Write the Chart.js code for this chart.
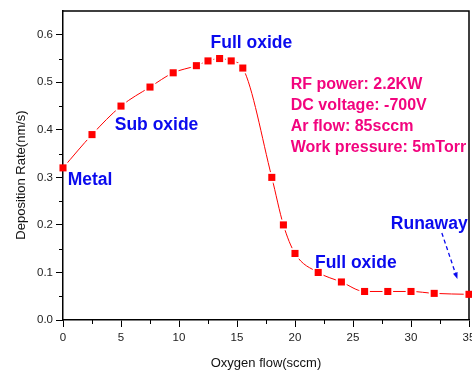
<!DOCTYPE html>
<html><head><meta charset="utf-8">
<script src="https://cdn.jsdelivr.net/npm/chart.js@4/dist/chart.umd.min.js"></script>
<style>html,body{margin:0;padding:0;background:#fff;}#wrap{width:472px;height:370px;position:relative;}</style>
</head><body><div id="wrap"><canvas id="c" width="472" height="370" style="width:472px;height:370px;"></canvas></div>
<script>
// ---- data ----
const oxygenFlow     = [0, 2.5, 5, 7.5, 9.5, 11.5, 12.5, 13.5, 14.5, 15.5, 18, 19, 20, 22, 24, 26, 28, 30, 32, 35];
const depositionRate = [0.32, 0.39, 0.45, 0.49, 0.52, 0.535, 0.545, 0.55, 0.545, 0.53, 0.30, 0.20, 0.14, 0.10, 0.08, 0.06, 0.06, 0.06, 0.056, 0.054];
const xTickValues = [0, 5, 10, 15, 20, 25, 30, 35];
const yTickValues = [0, 0.1, 0.2, 0.3, 0.4, 0.5, 0.6];
const xTitle = 'Oxygen flow(sccm)';
const yTitle = 'Deposition Rate(nm/s)';
const regionLabels = ['Metal', 'Sub oxide', 'Full oxide', 'Full oxide', 'Runaway'];
const conditionLines = ['RF power: 2.2KW', 'DC voltage: -700V', 'Ar flow: 85sccm', 'Work pressure: 5mTorr'];

const points = oxygenFlow.map((x, i) => ({x: x, y: depositionRate[i]}));

// annotation anchors in data coordinates
const annot = {
  regionAnchors: [[0.4, 0.284], [4.46, 0.40], [12.72, 0.572], [21.72, 0.109], [28.26, 0.191]],
  condAnchor: [19.63, 0.486],
  condStep: 0.0443,
  arrowFrom: [32.66, 0.183],
  arrowTo: [34.0, 0.086]
};

const BLUE = '#0A0AEE', PINK = '#F2047E', RED = '#FF0000';

const extras = {
  id: 'extras',
  beforeDatasetsDraw(chart) {
    const {ctx, chartArea: a} = chart;
    const xs = chart.scales.x, ys = chart.scales.y;
    ctx.save();
    ctx.strokeStyle = '#000';
    ctx.lineWidth = 1.5;
    ctx.beginPath();
    ctx.moveTo(a.left, a.top); ctx.lineTo(a.right, a.top); ctx.lineTo(a.right, a.bottom);
    ctx.stroke();
    // minor ticks
    ctx.lineWidth = 1;
    ctx.beginPath();
    for (let i = 0; i < xTickValues.length - 1; i++) {
      const v = (xTickValues[i] + xTickValues[i + 1]) / 2;
      const px = Math.round(xs.getPixelForValue(v)) + 0.5;
      ctx.moveTo(px, a.bottom); ctx.lineTo(px, a.bottom + 4);
    }
    for (let i = 0; i < yTickValues.length - 1; i++) {
      const v = (yTickValues[i] + yTickValues[i + 1]) / 2;
      const py = Math.round(ys.getPixelForValue(v)) + 0.5;
      ctx.moveTo(a.left, py); ctx.lineTo(a.left - 4, py);
    }
    ctx.stroke();
    ctx.restore();
  },
  afterDraw(chart) {
    const {ctx, chartArea: a} = chart;
    const xs = chart.scales.x, ys = chart.scales.y;
    ctx.save();
    // axis titles
    ctx.fillStyle = '#111';
    ctx.font = '13px "Liberation Sans", Arial, sans-serif';
    ctx.textAlign = 'center';
    ctx.textBaseline = 'alphabetic';
    ctx.fillText(xTitle, (a.left + a.right) / 2, 367);
    ctx.save();
    ctx.translate(25, 175);
    ctx.rotate(-Math.PI / 2);
    ctx.fillText(yTitle, 0, 0);
    ctx.restore();
    // region labels
    ctx.textAlign = 'left';
    ctx.fillStyle = BLUE;
    ctx.font = 'bold 17.5px "Liberation Sans", Arial, sans-serif';
    regionLabels.forEach((t, i) => {
      const [vx, vy] = annot.regionAnchors[i];
      ctx.fillText(t, xs.getPixelForValue(vx), ys.getPixelForValue(vy));
    });
    // conditions
    ctx.fillStyle = PINK;
    ctx.font = 'bold 16px "Liberation Sans", Arial, sans-serif';
    conditionLines.forEach((t, i) => {
      ctx.fillText(t, xs.getPixelForValue(annot.condAnchor[0]),
        ys.getPixelForValue(annot.condAnchor[1] - i * annot.condStep));
    });
    // dashed arrow
    const x1 = xs.getPixelForValue(annot.arrowFrom[0]), y1 = ys.getPixelForValue(annot.arrowFrom[1]);
    const x2 = xs.getPixelForValue(annot.arrowTo[0]), y2 = ys.getPixelForValue(annot.arrowTo[1]);
    const ang = Math.atan2(y2 - y1, x2 - x1);
    ctx.strokeStyle = BLUE;
    ctx.lineWidth = 1.3;
    ctx.setLineDash([4, 3]);
    ctx.beginPath();
    ctx.moveTo(x1, y1);
    ctx.lineTo(x2 - 5 * Math.cos(ang), y2 - 5 * Math.sin(ang));
    ctx.stroke();
    ctx.setLineDash([]);
    ctx.fillStyle = BLUE;
    ctx.beginPath();
    ctx.moveTo(x2, y2);
    ctx.lineTo(x2 - 7 * Math.cos(ang - 0.35), y2 - 7 * Math.sin(ang - 0.35));
    ctx.lineTo(x2 - 7 * Math.cos(ang + 0.35), y2 - 7 * Math.sin(ang + 0.35));
    ctx.closePath();
    ctx.fill();
    ctx.restore();
  }
};

const tickFont = {family: '"Liberation Sans", Arial, sans-serif', size: 11.5};

new Chart(document.getElementById('c'), {
  type: 'scatter',
  data: {
    datasets: [
      {data: points, showLine: true, borderColor: RED, borderWidth: 1, pointRadius: 0,
       cubicInterpolationMode: 'monotone', order: 3},
      {data: points, showLine: false, pointStyle: 'rect', pointRadius: 7.5, pointBorderWidth: 0,
       pointBackgroundColor: '#fff', order: 2, clip: {left: -1, right: -1, top: 0, bottom: -1}},
      {data: points, showLine: false, pointStyle: 'rect', pointRadius: 5, pointBorderWidth: 0,
       pointBackgroundColor: RED, order: 1, clip: false}
    ]
  },
  options: {
    responsive: false, animation: false, devicePixelRatio: 1,
    layout: {autoPadding: false, padding: {top: 11, right: 3, left: 0, bottom: 0}},
    plugins: {legend: {display: false}, tooltip: {enabled: false}},
    scales: {
      x: {
        type: 'linear', min: 0, max: 35,
        afterFit: s => { s.height = 50; s.paddingRight = 0; s.paddingLeft = 0; },
        border: {display: true, color: '#000', width: 1.5},
        grid: {drawOnChartArea: false, drawTicks: true, tickLength: 7, tickColor: '#000', tickWidth: 1},
        ticks: {stepSize: 5, color: '#222', font: tickFont, padding: 4, maxRotation: 0,
                callback: v => xTickValues.includes(v) ? String(v) : ''}
      },
      y: {
        type: 'linear', min: 0, max: 0.65,
        afterFit: s => { s.width = 63; s.paddingTop = 0; s.paddingBottom = 0; },
        border: {display: true, color: '#000', width: 1.5},
        grid: {drawOnChartArea: false, drawTicks: true, tickLength: 7, tickColor: '#000', tickWidth: 1},
        ticks: {stepSize: 0.1, includeBounds: false, color: '#222', font: tickFont, padding: 3,
                callback: v => v.toFixed(1)}
      }
    }
  },
  plugins: [extras]
});
</script>
</body></html>
